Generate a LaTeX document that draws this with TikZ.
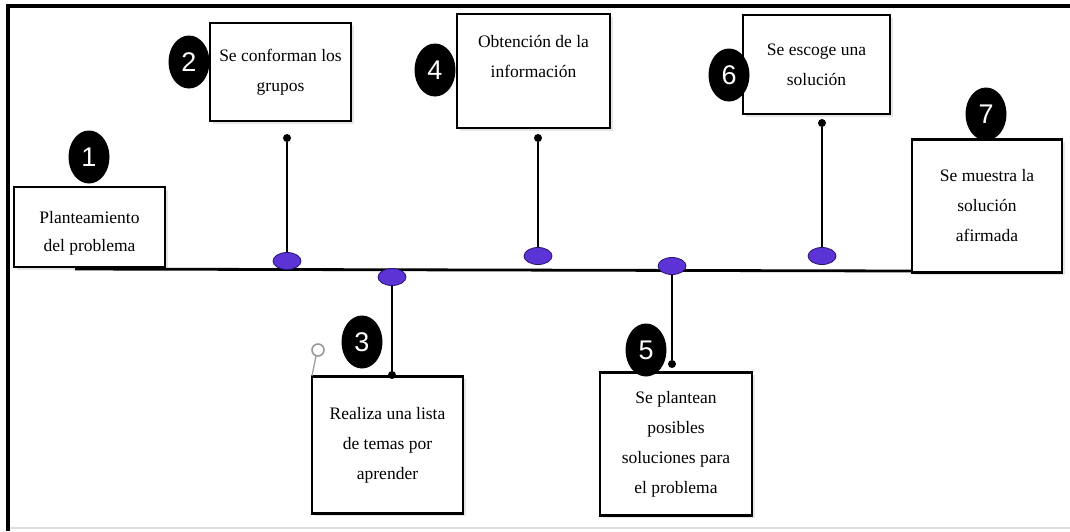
\documentclass[tikz,border=0pt]{standalone}
\usepackage{fontspec}
\setmainfont{Liberation Serif}
\newfontfamily\numfont{Liberation Sans}
\usepackage{xcolor}
\usepackage{tikz}
\usetikzlibrary{positioning, shapes.geometric, shadows}

\definecolor{knobfill}{RGB}{92,52,214}
\definecolor{knobline}{RGB}{40,20,110}

\begin{document}
\begin{tikzpicture}[
  x=1pt, y=-1pt,
  box/.style={draw=black, line width=2.4pt, fill=white, align=center,
              inner sep=2pt, font=\fontsize{17.5}{30}\selectfont,
              drop shadow={opacity=0.2, shadow xshift=2.5pt, shadow yshift=-2.5pt}},
  num/.style={ellipse, fill=black, text=white, inner sep=0pt,
              minimum width=41pt, minimum height=53pt,
              font=\numfont\fontsize{27}{27}\selectfont},
  knob/.style={ellipse, fill=knobfill, draw=knobline, line width=0.8pt,
               minimum width=28pt, minimum height=17pt, inner sep=0pt},
  pin/.style={circle, fill=black, minimum size=8pt, inner sep=0pt},
  stem/.style={line width=2.4pt},
]
\useasboundingbox (0,0) rectangle (1070,531);

% frame
\draw[line width=4pt] (1070,5.5) -- (8,5.5) -- (8,531);
\draw[line width=2pt, black!13] (10,528) -- (1070,528);

% boxes
\node[box, minimum width=151pt, minimum height=80pt] (b1) at (89.5,227)
  {\raisebox{-9pt}[0pt][0pt]{\begin{tabular}{@{}c@{}}Planteamiento\\[-2pt]del problema\end{tabular}}};
\node[box, minimum width=141pt, minimum height=98pt] (b2) at (280.5,72) {Se conforman los\\grupos};
\node[box, minimum width=151pt, minimum height=137pt] (b3) at (387.5,445) {Realiza una lista\\de temas por\\aprender};
\node[box, minimum width=153pt, minimum height=114pt] (b4) at (533.5,71) {Obtención de la\\información\\\mbox{}};
\node[box, minimum width=152pt, minimum height=143pt] (b5) at (676,444) {Se plantean\\posibles\\soluciones para\\el problema};
\node[box, minimum width=147pt, minimum height=99pt] (b6) at (816.5,64.5) {Se escoge una\\solución};
\node[box, minimum width=150pt, minimum height=133pt] (b7) at (987,206) {Se muestra la\\solución\\afirmada};

% time line
\coordinate (ls) at (75,269);
\coordinate (le) at (b7.west |- 0,271);
\draw[line width=2.8pt] (ls) -- (le);

% pins and knobs
\node[pin] (d2) at (287,138) {};
\node[pin] (d3) at (392,375) {};
\node[pin] (d4) at (538,138) {};
\node[pin] (d5) at (672,364) {};
\node[pin] (d6) at (822,123) {};
\node[knob] (e2) at (287,261) {};
\node[knob] (e3) at (392,277) {};
\node[knob] (e4) at (538,256) {};
\node[knob] (e5) at (672,266) {};
\node[knob] (e6) at (822,256) {};
\draw[stem] (d2) -- (e2.north);
\draw[stem] (e3.south) -- (d3);
\draw[stem] (d4) -- (e4.north);
\draw[stem] (e5.south) -- (d5);
\draw[stem] (d6) -- (e6.north);

% step numbers
\node[num] (n1) at (89,157) {1};
\node[num] (n2) at (189,62) {2};
\node[num] (n3) at (362,342) {3};
\node[num] (n4) at (435,70) {4};
\node[num] (n5) at (646,350) {5};
\node[num] (n6) at (729,75) {6};
\node[num] (n7) at (986,114) {7};

% handle
\draw[black!40, line width=1.6pt] (318,350) circle (6);
\draw[black!40, line width=1.2pt] (316,356) -- (312,376);
\end{tikzpicture}
\end{document}
